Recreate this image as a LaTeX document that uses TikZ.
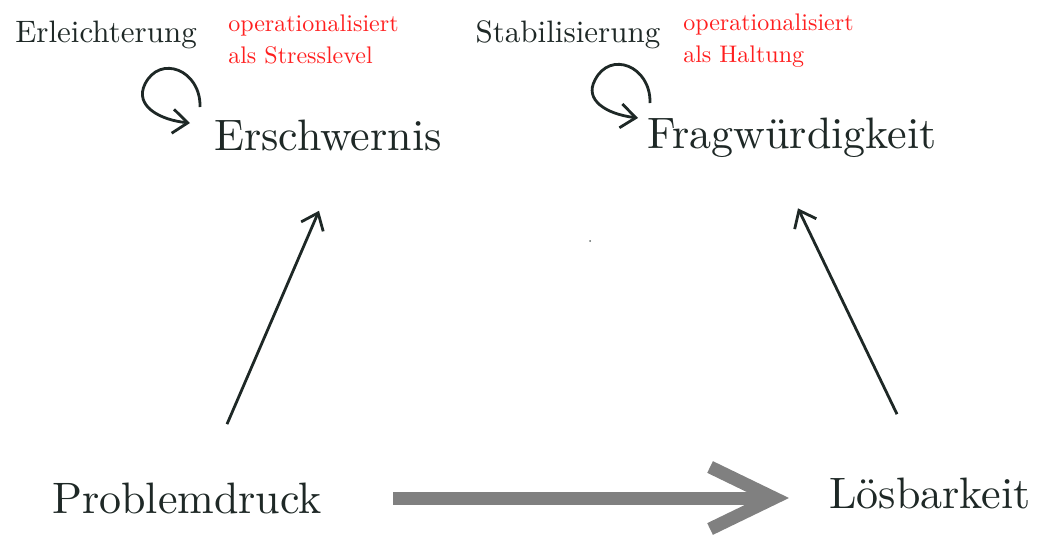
\documentclass[tikz,border=0pt]{standalone}
\usepackage{fontspec}
\setmainfont{lmroman10-regular}[Extension=.otf]
\usepackage{tikz}
\usetikzlibrary{arrows.meta}

\definecolor{ink}{HTML}{1E2826}
\definecolor{notered}{HTML}{FF1F1F}
\definecolor{shaft}{HTML}{808080}

\begin{document}
\begin{tikzpicture}[x=1pt, y=-1pt, semithick,
term/.style ={text = ink, inner sep=0pt, anchor=base, font=\fontsize{44}{48}\selectfont},
aim/.style ={text = ink, inner sep=0pt, anchor=base, font=\fontsize{31}{34}\selectfont},
note/.style ={text = notered, inner sep=0pt, anchor=base west, align=left, font=\fontsize{24}{32}\selectfont},
link/.style ={draw=ink, line width=2.8pt, -{Straight Barb[length=15pt,width=24pt]}},
flow/.style ={draw=shaft, line width=13pt, -{Straight Barb[length=64pt,width=62pt,line width=13pt]}}]
\useasboundingbox (0,0) rectangle (1037,536);

% top row
\node[aim] (Er) at (106,42) {Erleichterung};
\node[note] (Ern) at (228,63) {operationalisiert\\als Stresslevel};
\node[term] (E) at (328,150) {Erschwernis};
\node[aim] (St) at (568,42) {Stabilisierung};
\node[note] (Stn) at (683,62) {operationalisiert\\als Haltung};
\node[term] (F) at (792,148) {Fragwürdigkeit};
% bottom row
\node[term] (P) at (187,513) {Problemdruck};
\node[term] (L) at (930,508) {Lösbarkeit};

\coordinate (ErA) at (200,107);
\coordinate (ErB) at (190,123);
\coordinate (StA) at (650,103);
\coordinate (StB) at (638,118);
\coordinate (PL) at (P.base east -| L.base west);

\draw[link] (ErA) .. controls (201,70) and (160,54) .. (145,84)
                  .. controls (134,106) and (160,120) .. (ErB);
\draw[link] (StA) .. controls (651,66) and (610,50) .. (595,80)
                  .. controls (584,100) and (606,114) .. (StB);

\draw[link] ([xshift=40pt,yshift=58pt]P.north) -- ([xshift=-9pt,yshift=-60pt]E.south);
\draw[link] ([xshift=-33pt,yshift=63pt]L.north) -- ([xshift=6pt,yshift=-51pt]F.south);
\draw[flow] ([xshift=71pt,yshift=15pt]P.base east) -- ([xshift=-40pt,yshift=15pt]PL);

\fill[ink!70] (590,241) circle (1pt);
\end{tikzpicture}
\end{document}
